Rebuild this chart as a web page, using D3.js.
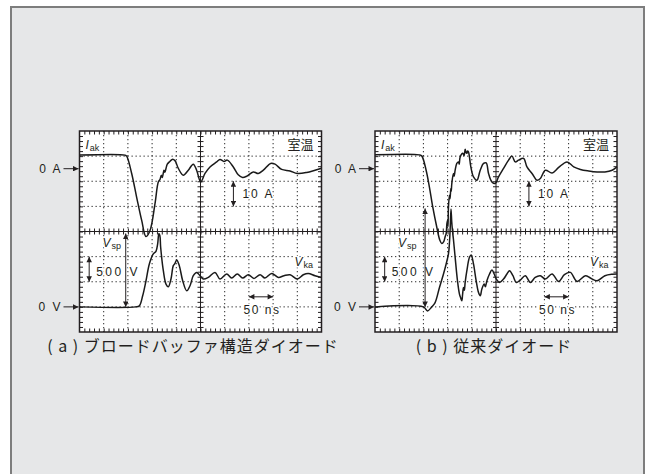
<!DOCTYPE html>
<html>
<head>
<meta charset="utf-8">
<script src="https://cdn.jsdelivr.net/npm/d3@7"></script>
<style>
  body { margin: 0; background: #fff; }
  svg { display: block; }
  .lbl { font-family: "Liberation Sans", Arial, sans-serif; font-size: 12px; fill: #231f20; letter-spacing: 2px; }
  .halo { paint-order: stroke; stroke: #fff; stroke-width: 3px; stroke-linejoin: round; }
  .jp { font-family: "Noto Sans CJK JP", sans-serif; fill: #231f20; }
</style>
</head>
<body>
<div id="chart"></div>
<script>
// Formas de onda: [tempo (ns), valor]
// (a) diodo "broad buffer"
const iakA = [[0,5.4],[94,5.4],[97.5,5.0],[107.8,-1.9],[118,-11.3],[128.5,-20.6],[137.4,-27],[145.7,-24.6],[156,-13.9],[162.8,-5.3],[166.3,-4.3],[169,-2.6],[171,-3.5],[174.6,-0.6],[176.5,-1.4],[178.7,0.1],[181.4,1.8],[185.6,2.7],[191.7,3.7],[197.3,3.2],[204.2,0.1],[214.5,-2.6],[224.8,-0.6],[235,1.8],[242,-0.6],[250.4,-5.3],[259.3,-1.9],[269.6,0.7],[283.4,2.7],[290.3,3.7],[298.5,2.9],[305.4,3.4],[317.8,0.7],[328,-2.4],[337,-3.5],[345.4,-3.0],[359,-1.3],[369.4,-1.9],[379.8,-0.6],[395,2.1],[404,1.8],[417.7,-0.3],[435,-0.9],[450,-1.9],[469.4,-1.5],[500,0.2]];
const vkaA = [[0,0],[116,0],[123.6,20],[130.5,220],[137.4,520],[144.3,854],[152.5,1054],[158,1106],[161.5,1254],[164,1460],[166,1420],[167.7,1186],[173.2,720],[178.7,454],[183.5,400],[189,554],[193.8,820],[197,860],[200.8,934],[206.2,820],[213.2,520],[221.5,320],[228.3,420],[235.1,620],[242.1,686],[249,620],[255.8,554],[266.1,586],[280,686],[290.3,554],[304.1,654],[314.4,574],[326,654],[337.2,574],[348.8,640],[360.5,566],[373,640],[383.2,574],[397,666],[410.8,586],[422.5,620],[435,640],[450,554],[462.4,640],[472.7,666],[486.6,620],[500,586]];

// (b) diodo convencional
const iakB = [[0,5.5],[91.7,5.5],[96.6,5.1],[105.6,-0.6],[112.4,-7.3],[119.4,-15.3],[127.7,-23.3],[134,-28.5],[138,-29.8],[142,-29],[145,-27],[147,-25.9],[148.5,-22],[149.8,-20.6],[150.8,-23],[151.8,-15.3],[153.8,-10.6],[155,-12],[156.7,-7.9],[157.5,-9],[158.7,-5.9],[162,-1.9],[163.5,-3],[165.6,-0.6],[169,2.1],[172.5,2.7],[174,1.8],[176,4.7],[181.5,6.1],[184,5.2],[186.3,7.7],[188,6.5],[189.8,6.1],[191,7],[193,6.7],[198,0.7],[203.5,-3.3],[210.5,-4.6],[217.4,-0.6],[224.2,2.1],[229.8,2.3],[234.6,-1.9],[241.6,-5.3],[248.4,-5.9],[255.2,-3.3],[265.6,0.1],[276,3.4],[283,5.0],[289.8,2.7],[296.6,3.4],[307,4.1],[314,0.7],[324.4,-1.9],[334.7,-4.6],[341.6,-3.9],[352,-0.6],[365.8,-1.7],[379.5,0.5],[396.8,2.7],[410.6,0.7],[424.4,-0.3],[441.5,-0.9],[458.9,-1.3],[475,-1.3],[490,-0.6],[500,0.7]];
const vkaB = [[0,0],[100,0],[108.3,-80],[117.3,0],[124.2,86],[133.2,386],[141.5,654],[147,854],[151.8,1054],[154,1300],[155.5,1600],[157,1950],[158.5,1700],[160,1520],[162,1350],[165.6,986],[170.4,520],[174.5,254],[177,180],[179.4,120],[181,250],[182.8,386],[184.5,330],[186.3,486],[189.8,720],[195.2,986],[198.7,1034],[203.5,854],[209,520],[213.9,286],[217.4,220],[220.8,354],[225.6,454],[228,400],[231.2,520],[236.6,654],[241.6,734],[246.3,654],[250.5,554],[257.4,486],[265.6,554],[272.6,654],[278,720],[285,620],[292,486],[300,534],[310.5,620],[321,486],[331,586],[341.6,620],[352,554],[365.8,654],[379.5,506],[391.3,640],[403.7,686],[417.4,506],[434.7,620],[445,574],[458.9,520],[475,620],[490,650],[500,654]];

// Tensão de pico Vsp (seta) e legendas
const vspA = { t: 95.5, v: 1460 };
const vspB = { t: 103.5, v: 1960 };
const captions = ['( a ) ブロードバッファ構造ダイオード', '( b ) 従来ダイオード'];
const roomTemp = '室温';

const W = 651, H = 474;
const TOP = 131, PW = 242, PH = 201;

const svg = d3.select('#chart').append('svg')
  .attr('width', W).attr('height', H);

// Fundo cinza com moldura
svg.append('rect')
  .attr('x', 11).attr('y', 7).attr('width', 633).attr('height', 480)
  .attr('fill', '#e6e7e8').attr('stroke', '#7d7d7d').attr('stroke-width', 2);

const defs = svg.append('defs');
defs.append('marker')
  .attr('id', 'ah').attr('viewBox', '0 0 10 10')
  .attr('refX', 10).attr('refY', 5)
  .attr('markerWidth', 7).attr('markerHeight', 5.5)
  .attr('markerUnits', 'userSpaceOnUse')
  .attr('orient', 'auto-start-reverse')
  .append('path').attr('d', 'M0,0L10,5L0,10z').attr('fill', '#231f20');

function arrow(g, x1, y1, x2, y2, both) {
  const l = g.append('line')
    .attr('x1', x1).attr('y1', y1).attr('x2', x2).attr('y2', y2)
    .attr('stroke', '#231f20').attr('stroke-width', 1)
    .attr('marker-end', 'url(#ah)');
  if (both) l.attr('marker-start', 'url(#ah)');
}

function drawPanel(left, iak, vka, vsp, caption, capX) {
  const g = svg.append('g');
  const x = d3.scaleLinear().domain([0, 500]).range([left, left + PW]);
  const yDiv = d3.scaleLinear().domain([0, 8]).range([TOP, TOP + PH]);
  const yI = d3.scaleLinear().domain([15, -65]).range([TOP, TOP + PH]);
  const yV = d3.scaleLinear().domain([3500, -500]).range([TOP, TOP + PH]);

  g.append('rect')
    .attr('x', left).attr('y', TOP).attr('width', PW).attr('height', PH)
    .attr('fill', '#fff');

  // Grade pontilhada
  const vDivs = d3.range(50, 500, 50).filter(t => t !== 250);
  const hDivs = d3.range(1, 8).filter(d => d !== 4);
  g.selectAll('.gv').data(vDivs).enter().append('line')
    .attr('x1', d => x(d)).attr('x2', d => x(d))
    .attr('y1', TOP).attr('y2', TOP + PH)
    .attr('stroke', '#2a2a2a').attr('stroke-width', 1).attr('stroke-dasharray', '1.3,2.7');
  g.selectAll('.gh').data(hDivs).enter().append('line')
    .attr('x1', left).attr('x2', left + PW)
    .attr('y1', d => yDiv(d)).attr('y2', d => yDiv(d))
    .attr('stroke', '#2a2a2a').attr('stroke-width', 1).attr('stroke-dasharray', '1.3,2.7');

  // Eixos centrais
  g.append('line').attr('x1', x(250)).attr('x2', x(250)).attr('y1', TOP).attr('y2', TOP + PH)
    .attr('stroke', '#231f20').attr('stroke-width', 1);
  g.append('line').attr('x1', left).attr('x2', left + PW).attr('y1', yDiv(4)).attr('y2', yDiv(4))
    .attr('stroke', '#231f20').attr('stroke-width', 1);

  // Marcas menores (bordas e eixos centrais)
  const minorT = d3.range(10, 500, 10);
  const minorD = d3.range(0.2, 8, 0.2);
  const clean = a => { a.select('.domain').remove(); a.selectAll('line').attr('stroke', '#231f20'); };
  const tk = (axis, tr) => g.append('g').attr('transform', tr).call(axis.tickFormat('').tickSizeOuter(0)).call(clean);

  tk(d3.axisBottom(x).tickValues(minorT).tickSizeInner(3.5), `translate(0,${TOP})`);
  tk(d3.axisTop(x).tickValues(minorT).tickSizeInner(3.5), `translate(0,${TOP + PH})`);
  tk(d3.axisRight(yDiv).tickValues(minorD).tickSizeInner(3.5), `translate(${left},0)`);
  tk(d3.axisLeft(yDiv).tickValues(minorD).tickSizeInner(3.5), `translate(${left + PW},0)`);
  tk(d3.axisBottom(x).tickValues(minorT).tickSizeInner(3), `translate(0,${yDiv(4)})`);
  tk(d3.axisTop(x).tickValues(minorT).tickSizeInner(3), `translate(0,${yDiv(4)})`);
  tk(d3.axisRight(yDiv).tickValues(minorD).tickSizeInner(3), `translate(${x(250)},0)`);
  tk(d3.axisLeft(yDiv).tickValues(minorD).tickSizeInner(3), `translate(${x(250)},0)`);

  // Rótulos internos (com fundo branco sobre a grade)
  const sym = (px, py, main, sub) => {
    const t = g.append('text').attr('class', 'halo').attr('x', px).attr('y', py)
      .style('font-family', '"Liberation Sans", Arial, sans-serif').attr('fill', '#231f20');
    t.append('tspan').style('font-style', 'italic').style('font-size', '12px').text(main);
    t.append('tspan').attr('dx', 1).attr('dy', 2).style('font-size', '9px').text(sub);
  };
  sym(left + 6, TOP + 18, 'I', 'ak');
  sym(left + 23, TOP + 116, 'V', 'sp');
  sym(left + 215, TOP + 135, 'V', 'ka');

  g.append('text').attr('class', 'jp halo').attr('x', left + PW - 8).attr('y', TOP + 18)
    .attr('text-anchor', 'end').style('font-size', '13px').text(roomTemp);

  // Escalas: 10 A/div, 500 V/div, 50 ns/div
  g.append('text').attr('class', 'lbl halo').attr('x', x(318) + 9).attr('y', yI(-10) + 4.5).text('10 A');
  g.append('text').attr('class', 'lbl halo').attr('x', x(20) + 7).attr('y', yV(750) + 7)
    .style('letter-spacing', '2.5px').text('500 V');
  g.append('text').attr('class', 'lbl halo').attr('x', x(375) + 1).attr('y', yV(200) + 17)
    .attr('text-anchor', 'middle').style('letter-spacing', '1.5px').text('50 ns');

  // Formas de onda
  const curve = d3.curveCatmullRom.alpha(0.5);
  g.append('path').datum(iak)
    .attr('d', d3.line().x(d => x(d[0])).y(d => yI(d[1])).curve(curve))
    .attr('fill', 'none').attr('stroke', '#1a1a1a').attr('stroke-width', 1.5);
  g.append('path').datum(vka)
    .attr('d', d3.line().x(d => x(d[0])).y(d => yV(d[1])).curve(curve))
    .attr('fill', 'none').attr('stroke', '#1a1a1a').attr('stroke-width', 1.5);

  g.append('rect')
    .attr('x', left).attr('y', TOP).attr('width', PW).attr('height', PH)
    .attr('fill', 'none').attr('stroke', '#231f20').attr('stroke-width', 1.5);

  arrow(g, x(318), yI(-5), x(318), yI(-15), true);
  arrow(g, x(20), yV(1000), x(20), yV(500), true);
  arrow(g, x(350), yV(200), x(400), yV(200), true);
  arrow(g, x(vsp.t), yV(vsp.v), x(vsp.t), yV(0), true);

  // Níveis de zero
  g.append('text').attr('class', 'lbl').attr('x', left - 17).attr('y', yI(0) + 4)
    .attr('text-anchor', 'end').text('0 A');
  arrow(g, left - 16, yI(0), left - 1, yI(0), false);
  g.append('text').attr('class', 'lbl').attr('x', left - 17).attr('y', yV(0) + 4)
    .attr('text-anchor', 'end').text('0 V');
  arrow(g, left - 16, yV(0), left - 1, yV(0), false);

  // Legenda inferior
  svg.append('text').attr('class', 'jp').attr('x', capX).attr('y', 352)
    .attr('text-anchor', 'middle').style('font-size', '16px').style('letter-spacing', '1px')
    .text(caption);
}

drawPanel(79.5, iakA, vkaA, vspA, captions[0], 193);
drawPanel(375, iakB, vkaB, vspB, captions[1], 494);
</script>
</body>
</html>
